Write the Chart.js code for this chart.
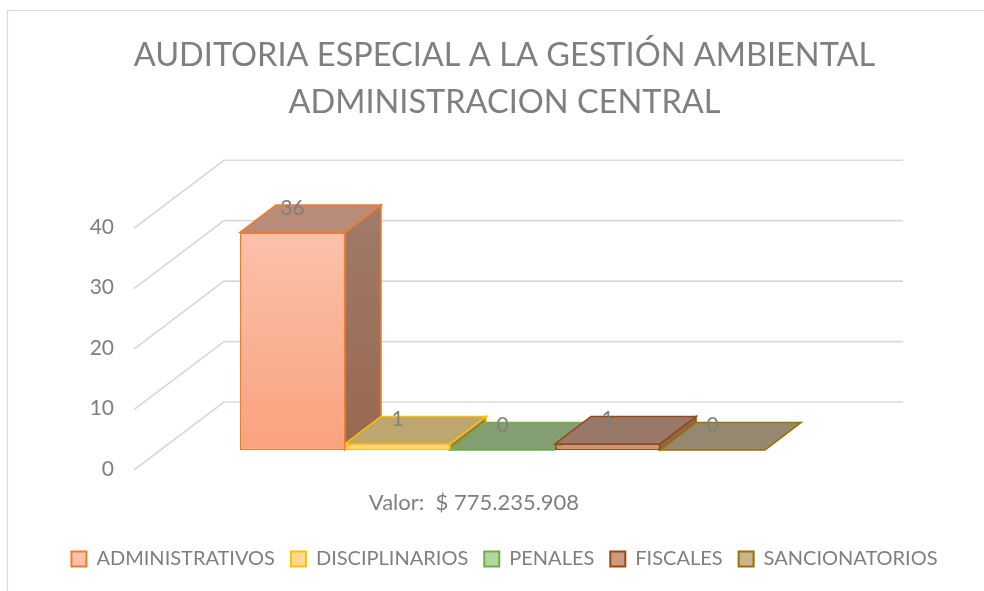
<!DOCTYPE html>
<html>
<head>
<meta charset="utf-8">
<style>html,body{margin:0;padding:0;background:#fff}canvas{display:block}</style>
<script src="https://cdn.jsdelivr.net/npm/chart.js@4"></script>
</head>
<body>
<canvas id="c" width="984" height="591"></canvas>
<script>
const titleLines = ['AUDITORIA ESPECIAL A LA GESTIÓN AMBIENTAL', 'ADMINISTRACION CENTRAL'];
const categories = ['Valor:  $ 775.235.908'];
const seriesNames = ['ADMINISTRATIVOS', 'DISCIPLINARIOS', 'PENALES', 'FISCALES', 'SANCIONATORIOS'];
const seriesValues = [[36], [1], [0], [1], [0]];
const yTicks = [0, 10, 20, 30, 40];
const borderColors = ['#ED7D31', '#FFC000', '#70AD47', '#9E480E', '#997300'];
const frontTop = ['#FBC1AA', '#FFD98F', '#B5D6A2', '#CD9A82', '#C9B48C'];
const frontBottom = ['#F9A27E', '#FFD27F', '#A9D18E', '#C48B72', '#C2AD84'];
const topColors = ['#B98C77', '#BEA671', '#849F72', '#987868', '#968870'];
const sideTop = ['#9F7B68', '#8F7F5A', '#6F8A5F', '#85695C', '#7F7460'];
const sideBottom = ['#9A6850', '#8F7F5A', '#6F8A5F', '#85695C', '#7F7460'];

const TEXT = '#7F7F7F', GRID = '#D9D9D9';
const DEPTH_X = 36, DEPTH_Y = 27.5;

const scene = {
  id: 'scene',
  beforeDraw(chart) {
    const {ctx, width, height, chartArea: a, scales: {y}} = chart;
    ctx.save();
    ctx.fillStyle = '#fff';
    ctx.fillRect(0, 0, width, height);
    ctx.strokeStyle = GRID;
    ctx.lineWidth = 1.2;
    ctx.beginPath();
    ctx.moveTo(7.5, height);
    ctx.lineTo(7.5, 10.5);
    ctx.lineTo(width, 10.5);
    ctx.stroke();
    ctx.lineWidth = 1.7;
    yTicks.forEach(v => {
      const p = y.getPixelForValue(v);
      ctx.beginPath();
      ctx.moveTo(a.left - 29, p + 20);
      ctx.lineTo(a.left + 61, p - 48);
      ctx.lineTo(a.right + 61, p - 48);
      ctx.stroke();
    });
    ctx.restore();
  },
  beforeDatasetsDraw(chart) {
    const {ctx} = chart;
    ctx.save();
    ctx.lineJoin = 'miter';
    seriesNames.forEach((_, i) => {
      const bar = chart.getDatasetMeta(i).data[0];
      const l = bar.x - bar.width / 2, r = bar.x + bar.width / 2;
      const t = bar.y, b = bar.base;
      ctx.strokeStyle = borderColors[i];
      ctx.lineWidth = 1.6;
      if (b - t > 0.5) {
        const g = ctx.createLinearGradient(0, t - DEPTH_Y, 0, b);
        g.addColorStop(0, sideTop[i]);
        g.addColorStop(1, sideBottom[i]);
        ctx.fillStyle = g;
        ctx.beginPath();
        ctx.moveTo(r, t);
        ctx.lineTo(r + DEPTH_X, t - DEPTH_Y);
        ctx.lineTo(r + DEPTH_X, b - DEPTH_Y);
        ctx.lineTo(r, b);
        ctx.closePath();
        ctx.fill();
        ctx.stroke();
      }
      ctx.fillStyle = topColors[i];
      ctx.beginPath();
      ctx.moveTo(l, t);
      ctx.lineTo(l + DEPTH_X, t - DEPTH_Y);
      ctx.lineTo(r + DEPTH_X, t - DEPTH_Y);
      ctx.lineTo(r, t);
      ctx.closePath();
      ctx.fill();
      ctx.stroke();
    });
    ctx.restore();
  },
  afterDatasetsDraw(chart) {
    const {ctx} = chart;
    ctx.save();
    ctx.fillStyle = TEXT;
    ctx.font = '21px Lato';
    ctx.textAlign = 'center';
    ctx.textBaseline = 'middle';
    seriesNames.forEach((_, i) => {
      const bar = chart.getDatasetMeta(i).data[0];
      ctx.fillText(String(seriesValues[i][0]), bar.x, bar.y - 24.5);
    });
    ctx.restore();
  }
};

new Chart(document.getElementById('c'), {
  type: 'bar',
  data: {
    labels: categories,
    datasets: seriesNames.map((name, i) => ({
      label: name,
      data: seriesValues[i],
      borderColor: borderColors[i],
      borderWidth: 1.6,
      borderSkipped: false,
      clip: false,
      barPercentage: 1,
      categoryPercentage: 525 / 679,
      backgroundColor(c) {
        const area = c.chart.chartArea;
        if (!area) return frontBottom[i];
        const y = c.chart.scales.y;
        const g = c.chart.ctx.createLinearGradient(0, y.getPixelForValue(seriesValues[i][0]), 0, y.getPixelForValue(0));
        g.addColorStop(0, frontTop[i]);
        g.addColorStop(1, frontBottom[i]);
        return g;
      }
    }))
  },
  options: {
    responsive: false,
    animation: false,
    layout: {padding: {left: 25, right: 0, top: 0, bottom: 12}},
    scales: {
      x: {
        grid: {display: false, drawTicks: false},
        border: {display: false},
        ticks: {color: TEXT, font: {family: 'Lato', size: 22}, padding: 40, labelOffset: -28.5, maxRotation: 0},
        afterFit(s) { s.height = 83; }
      },
      y: {
        min: 0, max: 40,
        position: 'left',
        grid: {display: false, drawTicks: false},
        border: {display: false},
        ticks: {color: TEXT, font: {family: 'Lato', size: 21}, stepSize: 10, padding: 49, labelOffset: 19},
        afterFit(s) { s.width = 138; }
      },
      gutter: {
        type: 'linear',
        position: 'right',
        grid: {display: false, drawTicks: false},
        border: {display: false},
        ticks: {display: false},
        afterFit(s) { s.width = 142; }
      }
    },
    plugins: {
      tooltip: {enabled: false},
      title: {
        display: true,
        text: titleLines,
        color: TEXT,
        font: {family: 'Lato', size: 32.5, weight: 'normal', lineHeight: 1.45},
        padding: {top: 32, bottom: 82}
      },
      legend: {
        display: true,
        position: 'bottom',
        labels: {
          color: TEXT,
          font: {family: 'Lato', size: 20},
          boxWidth: 15, boxHeight: 15,
          padding: 16,
          generateLabels(chart) {
            return Chart.defaults.plugins.legend.labels.generateLabels(chart).map((it, i) => {
              it.fillStyle = frontTop[i];
              it.strokeStyle = borderColors[i];
              it.lineWidth = 2;
              return it;
            });
          }
        }
      }
    }
  },
  plugins: [scene]
});
</script>
</body>
</html>
